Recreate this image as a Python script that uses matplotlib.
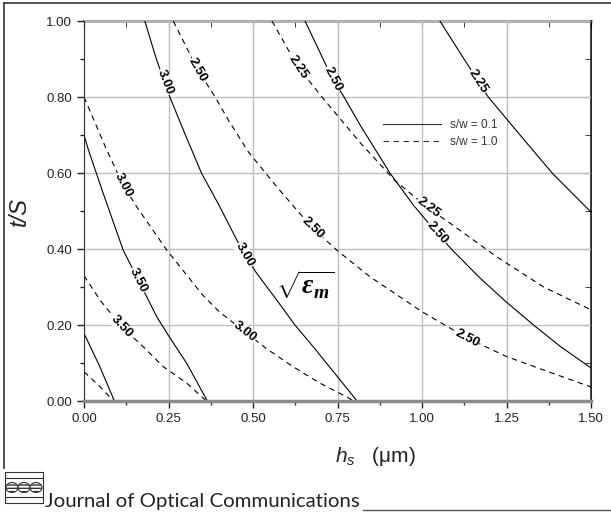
import numpy as np
import matplotlib.pyplot as plt
from matplotlib.lines import Line2D
from matplotlib.patches import Rectangle, Ellipse

plt.rcParams['font.family'] = ['Liberation Sans', 'DejaVu Sans']
plt.rcParams['mathtext.fontset'] = 'custom'
plt.rcParams['mathtext.rm'] = 'Liberation Sans'
plt.rcParams['mathtext.it'] = 'Liberation Sans:italic'
plt.rcParams['mathtext.bf'] = 'Liberation Sans:bold'
plt.rcParams['mathtext.bfit'] = 'Liberation Serif:bold:italic'

# contour lines, s/w = 0.1 (solid)
s_40_x = [0.0, 0.047, 0.09]
s_40_y = [0.178, 0.09, 0.0]
s_350_x = [0.0, 0.013, 0.057, 0.116, 0.161, 0.215, 0.25, 0.304, 0.365]
s_350_y = [0.70, 0.661, 0.546, 0.397, 0.318, 0.222, 0.172, 0.099, 0.0]
s_300_x = [0.18, 0.214, 0.254, 0.30, 0.348, 0.402, 0.442, 0.476, 0.511, 0.570, 0.624, 0.678, 0.738, 0.808]
s_300_y = [1.0, 0.9, 0.80, 0.70, 0.599, 0.511, 0.441, 0.384, 0.336, 0.266, 0.20, 0.143, 0.077, 0.0]
s_250_x = [0.654, 0.734, 0.766, 0.817, 0.905, 0.975, 1.044, 1.09, 1.17, 1.25, 1.33, 1.41, 1.5]
s_250_y = [1.0, 0.85, 0.805, 0.726, 0.60, 0.515, 0.442, 0.397, 0.325, 0.26, 0.2, 0.143, 0.087]
s_225_x = [1.053, 1.11, 1.166, 1.196, 1.29, 1.385, 1.5]
s_225_y = [1.0, 0.92, 0.842, 0.80, 0.70, 0.60, 0.497]

# s/w = 1.0 (dashed)
d_40_x = [0.0, 0.047, 0.088]
d_40_y = [0.077, 0.038, 0.0]
d_350_x = [0.0, 0.047, 0.111, 0.175, 0.235, 0.304, 0.362]
d_350_y = [0.33, 0.266, 0.196, 0.143, 0.09, 0.047, 0.0]
d_300_x = [0.0, 0.067, 0.116, 0.156, 0.245, 0.35, 0.40, 0.476, 0.541, 0.619, 0.698, 0.777, 0.797]
d_300_y = [0.80, 0.661, 0.568, 0.511, 0.397, 0.28, 0.235, 0.182, 0.137, 0.090, 0.047, 0.011, 0.0]
d_250_x = [0.264, 0.337, 0.388, 0.43, 0.486, 0.570, 0.634, 0.678, 0.748, 0.846, 1.0, 1.133, 1.25, 1.38, 1.5]
d_250_y = [1.0, 0.871, 0.80, 0.735, 0.656, 0.564, 0.498, 0.454, 0.397, 0.327, 0.235, 0.166, 0.117, 0.075, 0.037]
d_225_x = [0.556, 0.633, 0.704, 0.817, 0.92, 1.018, 1.083, 1.22, 1.36, 1.5]
d_225_y = [1.0, 0.879, 0.80, 0.68, 0.58, 0.508, 0.468, 0.38, 0.30, 0.24]

solid_lines = [(s_40_x, s_40_y), (s_350_x, s_350_y), (s_300_x, s_300_y),
               (s_250_x, s_250_y), (s_225_x, s_225_y)]
dashed_lines = [(d_40_x, d_40_y), (d_350_x, d_350_y), (d_300_x, d_300_y),
                (d_250_x, d_250_y), (d_225_x, d_225_y)]

# contour labels: text, x, y, which curve
labels = [
    ('3.50', 0.161, 0.318, s_350_x, s_350_y),
    ('3.00', 0.24, 0.840, s_300_x, s_300_y),
    ('3.00', 0.476, 0.384, s_300_x, s_300_y),
    ('2.50', 0.736, 0.848, s_250_x, s_250_y),
    ('2.50', 1.044, 0.442, s_250_x, s_250_y),
    ('2.25', 1.167, 0.842, s_225_x, s_225_y),
    ('3.50', 0.111, 0.196, d_350_x, d_350_y),
    ('3.00', 0.116, 0.568, d_300_x, d_300_y),
    ('3.00', 0.476, 0.182, d_300_x, d_300_y),
    ('2.50', 0.336, 0.871, d_250_x, d_250_y),
    ('2.50', 0.678, 0.454, d_250_x, d_250_y),
    ('2.50', 1.133, 0.166, d_250_x, d_250_y),
    ('2.25', 0.633, 0.879, d_225_x, d_225_y),
    ('2.25', 1.018, 0.508, d_225_x, d_225_y),
]

xticks = [0.0, 0.25, 0.5, 0.75, 1.0, 1.25, 1.5]
yticks = [0.0, 0.2, 0.4, 0.6, 0.8, 1.0]

W, H = 611, 513
fig = plt.figure(figsize=(W / 100, H / 100), dpi=100)
ax = fig.add_axes([84 / W, (H - 401) / H, 507 / W, 380 / H])
ax.set_xlim(0, 1.5)
ax.set_ylim(0, 1.0)

ax.grid(True, color='#bdbdbd', lw=1.0, zorder=0)
ax.set_axisbelow(True)

for xs, ys in solid_lines:
    ax.plot(xs, ys, color='black', lw=0.8, zorder=2)
for xs, ys in dashed_lines:
    ax.plot(xs, ys, color='black', lw=0.8, dashes=(5, 4), zorder=2)


def line_angle(xs, ys, x0, y0):
    pts = ax.transData.transform(np.column_stack([xs, ys]))
    p0 = ax.transData.transform((x0, y0))
    i = np.argmin(np.hypot(pts[:, 0] - p0[0], pts[:, 1] - p0[1]))
    j = min(i + 1, len(xs) - 1)
    k = max(i - 1, 0)
    d = pts[j] - pts[k]
    return np.degrees(np.arctan2(d[1], d[0]))


for txt, x0, y0, xs, ys in labels:
    ang = line_angle(xs, ys, x0, y0)
    ax.text(x0, y0, txt, rotation=ang, rotation_mode='anchor', ha='center', va='center',
            fontsize=9.5, fontweight='bold', zorder=3,
            bbox=dict(facecolor='white', edgecolor='none', pad=0.4))

ax.text(0.655, 0.305, r'$\mathbf{\sqrt{\mathbfit{\varepsilon}_{\mathbfit{m}}}}$', fontsize=20,
        ha='center', va='center', zorder=3)

# legend
h1 = Line2D([], [], color='#333333', lw=0.8)
h2 = Line2D([], [], color='#333333', lw=0.8, dashes=(5, 4))
ax.legend([h1, h2], ['s/w = 0.1', 's/w = 1.0'], loc='upper left',
          bbox_to_anchor=((383 - 84) / 507, (401 - 119) / 380), frameon=False,
          handlelength=4.9, handletextpad=0.8, labelspacing=0.45, fontsize=8.5,
          borderpad=0, borderaxespad=0, labelcolor='#333333')

ax.set_xticks(xticks)
ax.set_yticks(yticks)
ax.set_xticks([0.125, 0.375, 0.625, 0.875, 1.125, 1.375], minor=True)
ax.set_yticks([0.1, 0.3, 0.5, 0.7, 0.9], minor=True)
ax.set_xticklabels(['%.2f' % v for v in xticks])
ax.set_yticklabels(['%.2f' % v for v in yticks])
ax.tick_params(which='both', direction='out', labelsize=9.5, labelcolor='#222222',
               color='#222222', width=1)
ax.tick_params(which='major', length=5)
ax.tick_params(which='minor', length=3)
ax.tick_params(axis='x', pad=4)

top = ax.secondary_xaxis('top')
top.set_xticks(xticks)
top.set_xticks([0.125, 0.375, 0.625, 0.875, 1.125, 1.375], minor=True)
top.tick_params(which='both', direction='in', labeltop=False, color='#222222')
top.tick_params(which='major', length=5)
top.tick_params(which='minor', length=4)
top.spines['top'].set_color('#9a9a9a')
top.spines['top'].set_linewidth(2)

right = ax.secondary_yaxis('right')
right.set_yticks(yticks)
right.set_yticks([0.1, 0.3, 0.5, 0.7, 0.9], minor=True)
right.tick_params(which='both', direction='in', labelright=False, color='#222222')
right.tick_params(which='major', length=5)
right.tick_params(which='minor', length=4)
right.spines['right'].set_linewidth(1.2)

ax.spines['bottom'].set_color('#8c8c8c')
ax.spines['bottom'].set_linewidth(2.5)
ax.spines['top'].set_visible(False)
ax.spines['right'].set_visible(False)
ax.spines['left'].set_color('#333333')

ax.set_xlabel(r'$h_s$   (μm)', fontsize=15, color='#222222')
ax.xaxis.set_label_coords((375 - 84) / 507, -0.115)
ax.set_ylabel('t/S', fontsize=17, style='italic', color='#222222')
ax.yaxis.set_label_coords(-0.105, 0.5)

# page frame and journal footer
ft = fig.transFigure
fig.add_artist(Line2D([4 / W, 1.0], [(H - 3) / H, (H - 3) / H], transform=ft, color='#333333', lw=1.2))
fig.add_artist(Line2D([4 / W, 4 / W], [(H - 3) / H, (H - 468) / H], transform=ft, color='#333333', lw=1.2))
fig.add_artist(Rectangle((5 / W, (H - 503) / H), 38 / W, 31 / H, transform=ft,
                         facecolor='white', edgecolor='#333333', lw=0.8))
for py in [478, 497]:
    fig.add_artist(Line2D([5 / W, 43 / W], [(H - py) / H, (H - py) / H], transform=ft, color='#333333', lw=0.8))
for px in [12, 24, 36]:
    fig.add_artist(Ellipse((px / W, (H - 487.5) / H), 12 / W, 10 / H, transform=ft,
                           facecolor='white', edgecolor='#333333', lw=0.8, hatch='-----'))
fig.text(45 / W, (H - 507) / H, 'Journal of Optical Communications', fontsize=14.7,
         family='Lato', color='#222222', va='baseline', ha='left')
fig.add_artist(Line2D([363 / W, 1.0], [(H - 510) / H, (H - 510) / H], transform=ft, color='#555555', lw=1))

fig.savefig('out.png', dpi=100)
